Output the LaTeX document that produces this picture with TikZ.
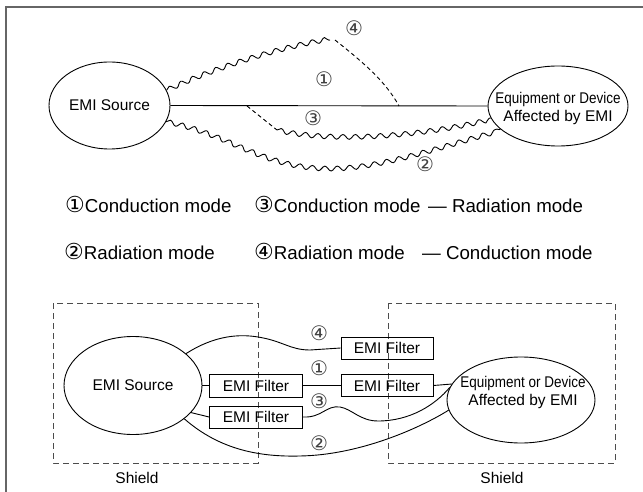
\documentclass[tikz,border=0pt]{standalone}
\usepackage{fontspec}
\usepackage{graphicx}
\setmainfont{Liberation Sans}
\newfontfamily\dvs{DejaVu Sans}
\usetikzlibrary{shapes.geometric,decorations.pathmorphing}
\newcommand{\lgnum}[1]{{\dvs\fontsize{22}{22}\selectfont #1}}
\begin{document}
\begin{tikzpicture}[x=1pt,y=-1pt,
  lbl/.style={font=\fontsize{15.5}{18}\selectfont, inner sep=0},
  ell/.style={draw, ellipse, inner sep=0, line width=0.9pt},
  filt/.style={draw, rectangle, minimum width=93pt, minimum height=23pt, inner sep=0, line width=0.9pt, font=\fontsize{15.5}{18}\selectfont},
  wave/.style={decorate, decoration={snake, amplitude=2.4pt, segment length=12.5pt}, line width=0.9pt},
  dsh/.style={dash pattern=on 4pt off 3pt, line width=0.9pt},
  shieldbox/.style={draw=black!70, dash pattern=on 6pt off 4pt, line width=1pt},
  num/.style={font=\dvs\fontsize{20}{20}\selectfont, inner sep=0, text=black!75},
  legend/.style={font=\fontsize{18.7}{20}\selectfont, inner sep=0, anchor=base west},
  conn/.style={line width=0.9pt}
]
\useasboundingbox (0,0) rectangle (643,492);
% frame
\draw[line width=1.5pt, black!60] (6,492) -- (6,7) -- (643,7);

% ---------- top diagram ----------
\node[ell, minimum width=121pt, minimum height=87pt, font=\fontsize{15.5}{18}\selectfont] (src1) at (109.5,105.5) {EMI Source};
\node[ell, minimum width=140pt, minimum height=80pt] (dev1) at (558,106) {};
\node[lbl, align=center] (dev1t) at (558,108) {\scalebox{0.87}[1]{Equipment or Device}\\Affected by EMI};

\coordinate (w4a) at (330,40);
\coordinate (w4b) at (335,40);
\coordinate (j1) at (399,106);
\coordinate (j3) at (247,106);
\coordinate (w3a) at (277,130);

\draw[conn] (src1.east) -- (dev1.west);
\draw[wave] (src1.15) .. controls (210,70) and (280,47) .. (w4a);
\draw[dsh] (w4b) .. controls (360,60) and (385,80) .. (j1);
\draw[dsh] (j3) -- (w3a);
\draw[wave] (w3a) .. controls (330,142) and (420,136) .. (dev1.190);
\draw[wave] (src1.-16) .. controls (230,135) and (260,168) .. (327,168) .. controls (380,168) and (440,145) .. (dev1.202);

\node[num] (n4t) at (354,28) {④};
\node[num] (n1t) at (324,79) {①};
\node[num] (n3t) at (313,118) {③};
\node[num] (n2t) at (425,164) {②};

% ---------- legend ----------
\node[legend] (lg1) at (65,212) {\lgnum{①}Conduction mode};
\node[legend] (lg3) at (254,212) {\lgnum{③}Conduction mode};
\node[legend] (lg3b) at (428,212) {— Radiation mode};
\node[legend] (lg2) at (64,259) {\lgnum{②}Radiation mode};
\node[legend] (lg4) at (254,259) {\lgnum{④}Radiation mode};
\node[legend] (lg4b) at (422,259) {— Conduction mode};

% ---------- bottom diagram ----------
\draw[shieldbox] (53,303) rectangle (258,463);
\draw[shieldbox] (388,303) rectangle (615,463);
\node[lbl] (sh1) at (137,478) {Shield};
\node[lbl] (sh2) at (502,478) {Shield};

\node[ell, minimum width=138pt, minimum height=98pt, font=\fontsize{15.5}{18}\selectfont] (src2) at (133,385.5) {EMI Source};
\node[ell, minimum width=148pt, minimum height=86pt] (dev2) at (521,400) {};
\node[lbl, align=center] (dev2t) at (523,392) {\scalebox{0.87}[1]{Equipment or Device}\\Affected by EMI};

\node[filt] (f1) at (256,385.5) {EMI Filter};
\node[filt, minimum height=22pt] (f3) at (256,417) {EMI Filter};
\node[filt, minimum width=92pt, minimum height=22pt] (f4) at (387,348) {EMI Filter};
\node[filt, minimum width=92pt, minimum height=22pt] (f2) at (387,385.5) {EMI Filter};

\draw[conn] (src2.east) -- (f1.west);
\draw[conn] (f1.east) -- (f2.west);
\draw[conn] (f2.east) -- (dev2.167);
\draw[conn] (src2.-25) -- (f3.west);
\draw[conn] (src2.31) .. controls (215,335) and (240,334) .. (258,337) .. controls (283,341) and (290,350) .. (310,350) -- (f4.west);
\draw[conn] (f3.east) .. controls (322,418) and (326,405) .. (340,407) .. controls (352,409) and (360,421) .. (378,421) .. controls (410,421) and (435,405) .. (dev2.170);
\draw[conn] (src2.-33) .. controls (220,450) and (260,457) .. (300,456) .. controls (360,455) and (420,428) .. (dev2.188);

\node[num] (n4b) at (319,333) {④};
\node[num] (n1b) at (319,368) {①};
\node[num] (n3b) at (319,401) {③};
\node[num] (n2b) at (319,443) {②};
\end{tikzpicture}
\end{document}
